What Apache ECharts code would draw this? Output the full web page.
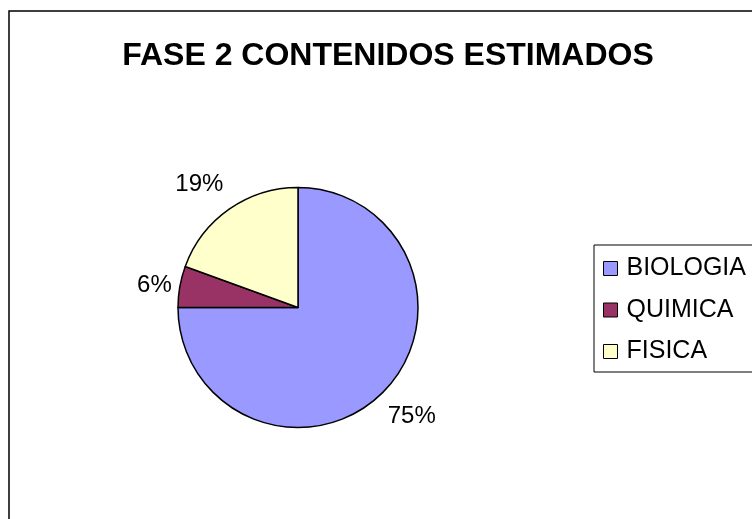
<!DOCTYPE html>
<html>
<head>
<meta charset="utf-8">
<script src="https://cdn.jsdelivr.net/npm/echarts@6/dist/echarts.min.js"></script>
<style>
  html, body { margin: 0; padding: 0; background: #fff; }
  #chart { width: 752px; height: 519px; }
</style>
</head>
<body>
<div id="chart"></div>
<script>
// data
var categories = ['BIOLOGIA', 'QUIMICA', 'FISICA'];
var values = [27, 2, 7];   // -> 75%, 6%, 19%
var colors = ['#9999FF', '#993366', '#FFFFCC'];

// small nudges so labels sit where Excel put them, [dx, dy]
var labelShift = [[2, -3], [12, 5], [-8, 6]];

var pieData = categories.map(function (name, i) {
  return { name: name, value: values[i], itemStyle: { color: colors[i] } };
});

var myChart = echarts.init(document.getElementById('chart'));
var font = '"Liberation Sans", Arial, sans-serif';

var option = {
  animation: false,
  title: {
    text: 'FASE 2 CONTENIDOS ESTIMADOS',
    left: 383,
    textAlign: 'center',
    top: 35,
    textStyle: { fontFamily: font, fontSize: 32, fontWeight: 'bold', color: '#000' }
  },
  graphic: [{
    type: 'rect',
    shape: { x: 9, y: 11, width: 760, height: 530 },
    style: { fill: 'none', stroke: '#000', lineWidth: 1.5 },
    silent: true
  }],
  legend: {
    orient: 'vertical',
    left: 594,
    top: 245,
    padding: [11, 40, 8, 9],
    itemWidth: 14,
    itemHeight: 14,
    itemGap: 16.5,
    itemTextGap: 12,
    icon: 'rect',
    borderColor: '#000',
    borderWidth: 1,
    backgroundColor: '#fff',
    data: categories,
    itemStyle: { borderColor: '#000', borderWidth: 1 },
    textStyle: { fontFamily: font, fontSize: 25, color: '#000', padding: [0, 0, 0, 4] }
  },
  series: [{
    type: 'pie',
    center: [298, 307.5],
    radius: 120,
    startAngle: 90,
    clockwise: true,
    label: { show: false },
    labelLine: { show: false },
    itemStyle: { borderColor: '#000', borderWidth: 1.5 },
    emphasis: { disabled: true },
    data: pieData
  }, {
    // invisible ring that only carries the percentage labels
    type: 'pie',
    center: [298, 307.5],
    radius: [140, 170],
    startAngle: 90,
    clockwise: true,
    silent: true,
    itemStyle: { color: 'rgba(0,0,0,0)', borderWidth: 0 },
    label: {
      show: true,
      position: 'inside',
      formatter: function (p) { return Math.round(p.percent) + '%'; },
      fontFamily: font,
      fontSize: 24,
      color: '#000'
    },
    labelLine: { show: false },
    emphasis: { disabled: true },
    data: pieData.map(function (d, i) {
      return { name: d.name, value: d.value, label: { offset: labelShift[i] } };
    })
  }]
};
myChart.setOption(option);
</script>
</body>
</html>
